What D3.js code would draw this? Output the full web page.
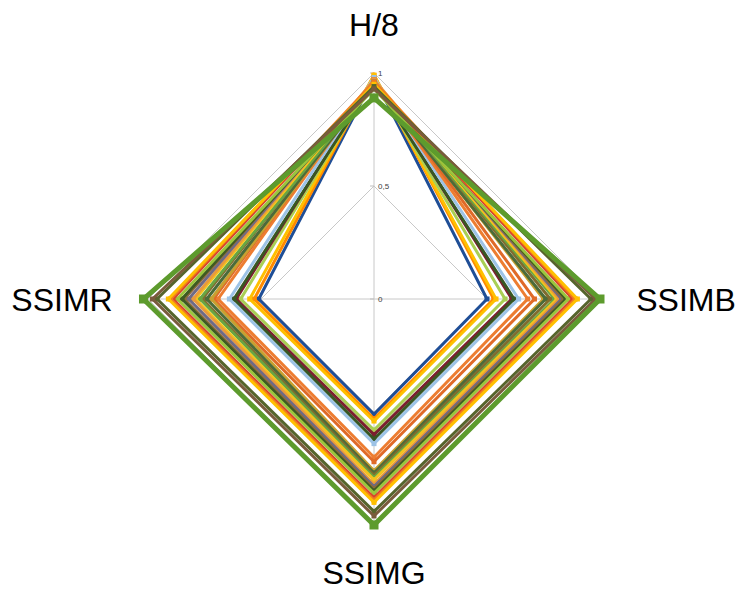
<!DOCTYPE html>
<html>
<head>
<meta charset="utf-8">
<script src="https://cdn.jsdelivr.net/npm/d3@7"></script>
<style>
body { margin: 0; background: #fff; }
svg { font-family: "Liberation Sans", Arial, sans-serif; }
</style>
</head>
<body>
<script>
var axes = ["H/8", "SSIMB", "SSIMG", "SSIMR"];
var ticks = [0, 0.5, 1];
var tickLabels = ["0", "0,5", "1"];

// one entry per series, outer to inner
var colors = ["#5d9b2d", "#7a5b3c", "#56652c", "#ffc000", "#f07c22", "#d8432b", "#9bc53d", "#3e5a22",
              "#8c6a3c", "#6e6a86", "#e89a3c", "#f3c31d", "#68a543", "#806c2e", "#4b6b3a", "#c8a030",
              "#e06a28", "#ed7d31", "#9dc3e6", "#385723", "#7b1f2e", "#a9cf54", "#ffc000", "#ff8a00", "#1f4e96"];
var h8    = [0.89, 0.93, 0.94, 0.95, 0.96, 0.95, 0.93, 0.94, 0.95, 0.96, 0.97, 0.96, 0.95, 0.96, 0.95, 0.96,
             0.97, 0.97, 0.98, 0.96, 0.97, 0.97, 0.99, 0.99, 0.98];
var ssimB = [1.00, 0.98, 0.96, 0.90, 0.89, 0.88, 0.86, 0.85, 0.84, 0.83, 0.82, 0.81, 0.80, 0.78, 0.76, 0.75,
             0.71, 0.68, 0.64, 0.62, 0.61, 0.58, 0.54, 0.53, 0.50];
var ssimG = [1.00, 0.96, 0.94, 0.90, 0.89, 0.88, 0.86, 0.85, 0.84, 0.83, 0.82, 0.80, 0.79, 0.78, 0.77, 0.76,
             0.72, 0.70, 0.64, 0.62, 0.60, 0.58, 0.54, 0.53, 0.51];
var ssimR = [1.02, 0.98, 0.96, 0.91, 0.90, 0.89, 0.87, 0.85, 0.84, 0.82, 0.80, 0.79, 0.77, 0.76, 0.74, 0.72,
             0.71, 0.69, 0.64, 0.62, 0.61, 0.59, 0.55, 0.53, 0.51];

var width = 736, height = 590;
var cx = 374, cy = 299;
var svg = d3.select("body").append("svg").attr("width", width).attr("height", height);
var g = svg.append("g").attr("transform", "translate(" + cx + "," + cy + ")");

var r = d3.scaleLinear().domain([0, 1]).range([0, 226]);
var angle = d3.scalePoint().domain(axes.concat(["_end"])).range([0, 2 * Math.PI]);

function pt(axis, v) {
    var a = angle(axis);
    return [r(v) * Math.sin(a), -r(v) * Math.cos(a)];
}

// grid diamonds
g.selectAll(".grid")
    .data(ticks.filter(function(t) { return t > 0; }))
    .enter().append("polygon")
    .attr("points", function(t) { return axes.map(function(a) { return pt(a, t).join(","); }).join(" "); })
    .attr("fill", "none")
    .attr("stroke", "#c8c8c8")
    .attr("stroke-width", 1);

// spokes
g.selectAll(".spoke")
    .data(axes)
    .enter().append("line")
    .attr("x1", 0).attr("y1", 0)
    .attr("x2", function(a) { return pt(a, 1)[0]; })
    .attr("y2", function(a) { return pt(a, 1)[1]; })
    .attr("stroke", "#c8c8c8")
    .attr("stroke-width", 1);

// tick marks + labels on the top axis
g.selectAll(".tick")
    .data(ticks)
    .enter().append("line")
    .attr("x1", -4).attr("x2", 0)
    .attr("y1", function(t) { return -r(t); })
    .attr("y2", function(t) { return -r(t); })
    .attr("stroke", "#bfbfbf");
g.selectAll(".tickLabel")
    .data(ticks)
    .enter().append("text")
    .attr("x", 4)
    .attr("y", function(t) { return -r(t) + 3; })
    .attr("font-size", 8)
    .attr("fill", "#404040")
    .text(function(t, i) { return tickLabels[i]; });

// series
var series = colors.map(function(c, i) {
    return { color: c, values: [h8[i], ssimB[i], ssimG[i], ssimR[i]] };
});
series.reverse();

var sg = g.selectAll(".series")
    .data(series)
    .enter().append("g");

sg.append("polygon")
    .attr("points", function(d) {
        return axes.map(function(a, j) { return pt(a, d.values[j]).join(","); }).join(" ");
    })
    .attr("fill", "none")
    .attr("stroke", function(d) { return d.color; })
    .attr("stroke-width", function(d, i) { return i === series.length - 1 ? 5 : 3; })
    .attr("stroke-linejoin", "miter");

sg.selectAll("rect")
    .data(function(d, i) {
        var big = i === series.length - 1;
        return axes.map(function(a, j) { return { p: pt(a, d.values[j]), color: d.color, s: big ? 9 : 5 }; });
    })
    .enter().append("rect")
    .attr("x", function(d) { return d.p[0] - d.s / 2; })
    .attr("y", function(d) { return d.p[1] - d.s / 2; })
    .attr("width", function(d) { return d.s; })
    .attr("height", function(d) { return d.s; })
    .attr("fill", function(d) { return d.color; });

// axis titles
var titlePos = [[374, 36], [686, 311], [374, 584], [62, 311]];
svg.selectAll(".axisTitle")
    .data(axes)
    .enter().append("text")
    .attr("x", function(d, i) { return titlePos[i][0]; })
    .attr("y", function(d, i) { return titlePos[i][1]; })
    .attr("text-anchor", "middle")
    .attr("font-size", 32)
    .attr("fill", "#000")
    .text(function(d) { return d; });
</script>
</body>
</html>
